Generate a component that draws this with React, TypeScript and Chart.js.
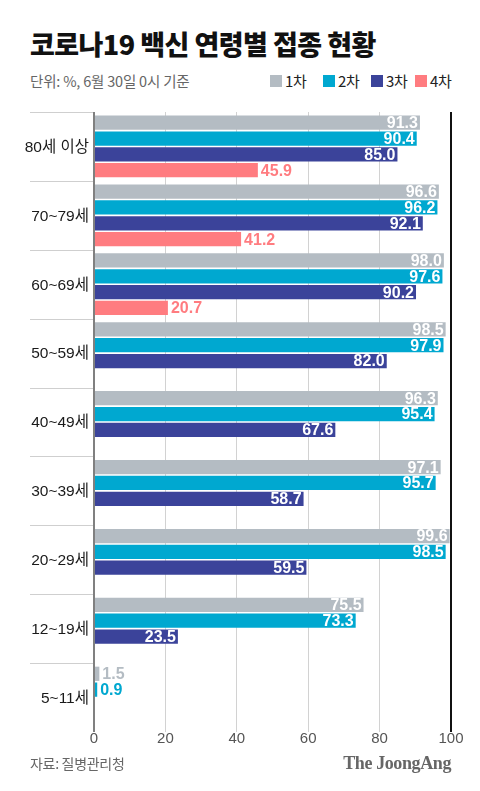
import React, { useEffect, useRef } from "react";
import { Chart, registerables } from "chart.js";

Chart.register(...registerables);

const categories = ["80세 이상", "70~79세", "60~69세", "50~59세", "40~49세", "30~39세", "20~29세", "12~19세", "5~11세"];
const dose1 = [91.3, 96.6, 98.0, 98.5, 96.3, 97.1, 99.6, 75.5, 1.5];
const dose2 = [90.4, 96.2, 97.6, 97.9, 95.4, 95.7, 98.5, 73.3, 0.9];
const dose3 = [85.0, 92.1, 90.2, 82.0, 67.6, 58.7, 59.5, 23.5, null];
const dose4 = [45.9, 41.2, 20.7, null, null, null, null, null, null];
const seriesNames = ["1차", "2차", "3차", "4차"];
const seriesColors = ["#b4bcc3", "#00a8d0", "#3b439a", "#ff7c80"];
const xTickValues = [0, 20, 40, 60, 80, 100];

const SANS = "'Liberation Sans', 'Noto Sans CJK KR', sans-serif";
const KR = "'Noto Sans CJK KR', 'Liberation Sans', sans-serif";

const customPlugin = {
  id: "customLabels",
  afterDatasetsDraw(chart: any) {
    const ctx = chart.ctx;
    const area = chart.chartArea;
    const yScale = chart.scales.y;
    const step = (area.bottom - area.top) / categories.length;
    ctx.save();
    // separators
    ctx.strokeStyle = "#cfcfcf";
    ctx.lineWidth = 1;
    for (let i = 0; i < categories.length; i++) {
      const yy = Math.round(area.top + i * step) + 0.5;
      ctx.beginPath();
      ctx.moveTo(30, yy);
      ctx.lineTo(area.left - 1, yy);
      ctx.stroke();
    }
    // category labels
    ctx.font = "15.5px " + SANS;
    ctx.fillStyle = "#1a1a1a";
    ctx.textAlign = "right";
    ctx.textBaseline = "middle";
    categories.forEach((c, i) => {
      ctx.fillText(c, 89, yScale.getPixelForValue(i) + 1);
    });
    // value labels
    ctx.font = "bold 16px " + SANS;
    chart.data.datasets.forEach((ds: any, di: number) => {
      const meta = chart.getDatasetMeta(di);
      meta.data.forEach((bar: any, i: number) => {
        const v = ds.data[i];
        if (v == null) return;
        const txt = v.toFixed(1);
        const w = ctx.measureText(txt).width;
        const barW = bar.x - bar.base;
        if (di < 3 && barW > w + 6) {
          ctx.fillStyle = "#ffffff";
          ctx.textAlign = "right";
          ctx.fillText(txt, bar.x - 2, bar.y + 1);
        } else {
          ctx.fillStyle = seriesColors[di];
          ctx.textAlign = "left";
          ctx.fillText(txt, bar.x + 3, bar.y + 1);
        }
      });
    });
    ctx.restore();
  },
};

function ChartCanvas() {
  const ref = useRef<HTMLCanvasElement | null>(null);
  useEffect(() => {
    if (!ref.current) return;
    const series = [dose1, dose2, dose3, dose4];
    const chart = new Chart(ref.current, {
      type: "bar",
      data: {
        labels: categories,
        datasets: series.map((d, i) => ({
          label: seriesNames[i],
          data: d as any,
          backgroundColor: seriesColors[i],
          borderWidth: 0,
          categoryPercentage: 0.92,
          barPercentage: 0.9,
        })),
      },
      options: {
        indexAxis: "y",
        responsive: false,
        animation: false,
        devicePixelRatio: 1,
        layout: { padding: { top: 12, left: 94, right: 29, bottom: 0 } },
        plugins: { legend: { display: false }, tooltip: { enabled: false } },
        scales: {
          y: { display: false },
          x: {
            min: 0,
            max: 100,
            afterBuildTicks: (scale: any) => {
              scale.ticks = xTickValues.map((v) => ({ value: v }));
            },
            afterFit: (scale: any) => {
              scale.height = 28;
            },
            border: { display: false },
            grid: {
              drawTicks: false,
              color: (c: any) => (c.tick && c.tick.value === 0 ? "#808080" : c.tick && c.tick.value === 100 ? "#111111" : "#d2d2d2"),
              lineWidth: (c: any) => (c.tick && (c.tick.value === 0 || c.tick.value === 100) ? 2 : 1),
            },
            ticks: {
              padding: -2,
              color: "#555",
              font: { size: 15, family: SANS },
            },
          },
        },
      },
      plugins: [customPlugin],
    } as any);
    return () => chart.destroy();
  }, []);
  return <canvas ref={ref} width={480} height={660} style={{ display: "block", width: 480, height: 660 }} />;
}

export default function App() {
  const legendPos = [270, 323, 371, 415];
  return (
    <div style={{ position: "absolute", left: 0, top: 0, width: 480, height: 791, background: "#fff", overflow: "hidden", fontFamily: KR }}>
      <div style={{ position: "absolute", left: 30, top: 29, fontSize: 27, lineHeight: "29px", fontWeight: 900, letterSpacing: "-0.55px", color: "#111", whiteSpace: "nowrap" }}>
        코로나19 백신 연령별 접종 현황
      </div>
      <div style={{ position: "absolute", left: 30, top: 73, fontSize: 14.5, lineHeight: "16px", color: "#666", letterSpacing: "-0.2px", whiteSpace: "nowrap" }}>
        단위: %, 6월 30일 0시 기준
      </div>
      {seriesNames.map((n, i) => (
        <div key={n} style={{ position: "absolute", left: legendPos[i], top: 73, height: 16, display: "flex", alignItems: "center", whiteSpace: "nowrap" }}>
          <span style={{ display: "inline-block", width: 12, height: 12, background: seriesColors[i], marginRight: 3 }} />
          <span style={{ fontSize: 15, lineHeight: "16px", color: "#222", letterSpacing: "-0.3px" }}>{n}</span>
        </div>
      ))}
      <div style={{ position: "absolute", left: 0, top: 100 }}>
        <ChartCanvas />
      </div>
      <div style={{ position: "absolute", left: 30, top: 755, fontSize: 14, lineHeight: "16px", color: "#666", letterSpacing: "-0.3px", whiteSpace: "nowrap" }}>
        자료: 질병관리청
      </div>
      <div style={{ position: "absolute", right: 29, top: 752, fontSize: 18, lineHeight: "22px", fontWeight: 700, color: "#666", fontFamily: "'Liberation Serif', 'DejaVu Serif', serif", letterSpacing: "-0.4px", whiteSpace: "nowrap" }}>
        The JoongAng
      </div>
    </div>
  );
}
